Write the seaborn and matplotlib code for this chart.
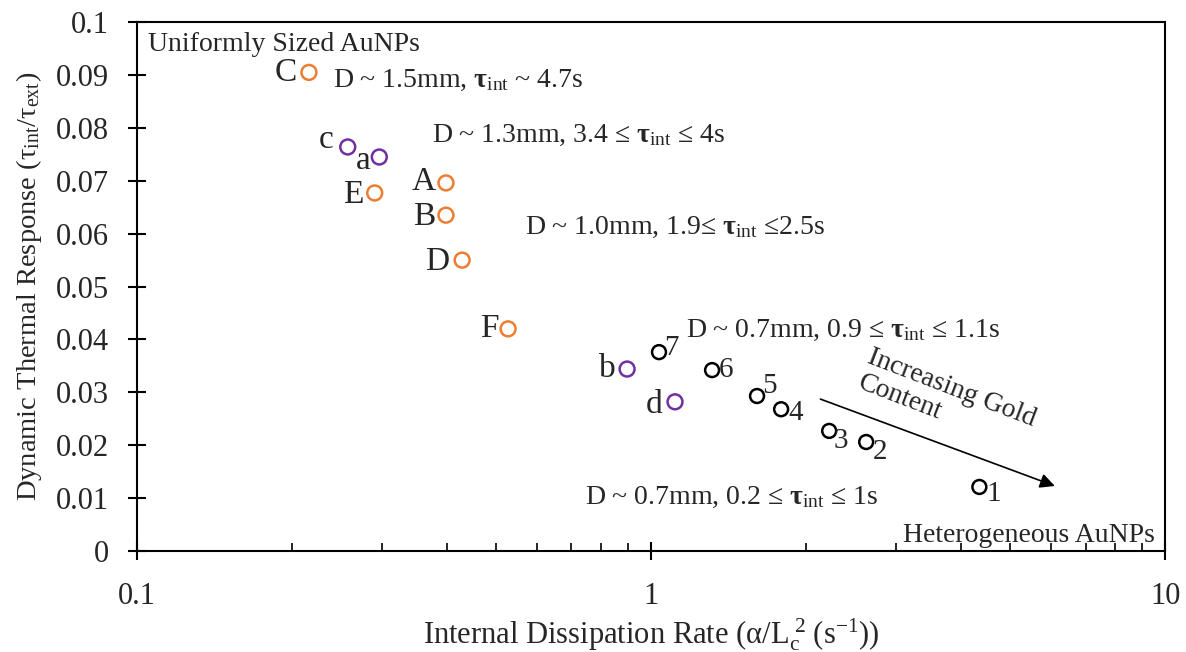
import matplotlib
matplotlib.use("Agg")
import matplotlib.pyplot as plt
import seaborn as sns

# values
orange_labels = ["C", "E", "A", "B", "D", "F"]
orange_x = [0.216, 0.290, 0.399, 0.399, 0.429, 0.527]
orange_y = [0.0905, 0.0677, 0.0696, 0.0635, 0.0550, 0.0420]

purple_labels = ["c", "a", "b", "d"]
purple_x = [0.257, 0.296, 0.898, 1.113]
purple_y = [0.0764, 0.0745, 0.0344, 0.0282]

black_labels = ["1", "2", "3", "4", "5", "6", "7"]
black_x = [4.35, 2.62, 2.22, 1.79, 1.607, 1.314, 1.036]
black_y = [0.0121, 0.0206, 0.0227, 0.0268, 0.0293, 0.0342, 0.0376]

# label offsets in points (dx, dy)
orange_off = [(-9, 0), (-8, -1), (-7, 1), (-8, -1), (-9, -1), (-7, 0)]
purple_off = [(-10, 5), (-6, -3), (-8, 0), (-9, -2)]
black_off = [(5, -5), (5, -7), (3, -7), (5, -3), (4, 7), (5, 0), (4, 3)]

arrow_start = (2.11, 0.0289)
arrow_end = (6.17, 0.0121)

sns.set_theme(style="white")
plt.rcParams['font.family'] = ['Liberation Serif', 'DejaVu Serif']
plt.rcParams['mathtext.fontset'] = 'custom'
plt.rcParams['mathtext.rm'] = 'Liberation Serif'
plt.rcParams['mathtext.it'] = 'Liberation Serif:italic'
plt.rcParams['mathtext.bf'] = 'Liberation Serif:bold'

fig = plt.figure(figsize=(11.86, 6.52), dpi=100)
ax = fig.add_axes([0.1155, 0.155, 0.867, 0.811])

ORANGE = "#ED7D31"
PURPLE = "#7030A0"

groups = [
    (orange_x, orange_y, orange_labels, orange_off, ORANGE, 24, 115),
    (purple_x, purple_y, purple_labels, purple_off, PURPLE, 24, 115),
    (black_x, black_y, black_labels, black_off, "black", 21, 100),
]
for xs, ys, labs, offs, col, fs, size in groups:
    sns.scatterplot(x=xs, y=ys, ax=ax, marker="o", s=size, color=col,
                    facecolor="none", edgecolor=col, linewidth=1.8, zorder=3)
    for x, y, lab, (dx, dy) in zip(xs, ys, labs, offs):
        ha = "right" if dx < 0 else "left"
        ax.annotate(lab, (x, y), xytext=(dx, dy), textcoords="offset points",
                    ha=ha, va="center", fontsize=fs)

ax.set_xscale("log")
ax.set_xlim(0.1, 10)
ax.set_ylim(0, 0.1)
ax.set_yticks([0, 0.01, 0.02, 0.03, 0.04, 0.05, 0.06, 0.07, 0.08, 0.09, 0.1])
ax.set_yticklabels(["0", "0.01", "0.02", "0.03", "0.04", "0.05", "0.06",
                    "0.07", "0.08", "0.09", "0.1"])
ax.set_xticks([0.1, 1, 10])
ax.set_xticklabels(["0.1", "1", "10"])

for sp in ax.spines.values():
    sp.set_color("black")
    sp.set_linewidth(1.5)

ax.tick_params(axis="y", which="major", direction="inout", length=13,
               width=1.5, labelsize=22, pad=14, color="black", left=True)
ax.tick_params(axis="x", which="major", direction="inout", length=13,
               width=1.5, labelsize=22, pad=16, color="black", bottom=True)
ax.tick_params(axis="x", which="minor", direction="in", length=6,
               width=1.2, color="black", bottom=True)

ax.set_xlabel(r"Internal Dissipation Rate ($\mathregular{α/L_c^{\ 2}\ (s^{-1})}$)",
              fontsize=22, labelpad=4)
ax.set_ylabel(r"Dynamic Thermal Response ($\mathregular{τ_{int}/τ_{ext}}$)",
              fontsize=20.5, labelpad=8)

ax.text(0.105, 0.0958, "Uniformly Sized AuNPs", ha="left", va="center",
        fontsize=20)
ax.text(9.56, 0.0030, "Heterogeneous AuNPs", ha="right", va="center",
        fontsize=20)

ax.text(0.2406, 0.0890, r"D ~ 1.5mm, $\mathbf{τ}_{\mathrm{int}}$ ~ 4.7s",
        fontsize=20, va="center")
ax.text(0.375, 0.0786, r"D ~ 1.3mm, 3.4 ≤ $\mathbf{τ}_{\mathrm{int}}$ ≤ 4s",
        fontsize=20, va="center")
ax.text(0.569, 0.0612, r"D ~ 1.0mm, 1.9≤ $\mathbf{τ}_{\mathrm{int}}$ ≤2.5s",
        fontsize=20, va="center")
ax.text(1.17, 0.0418, r"D ~ 0.7mm, 0.9 ≤ $\mathbf{τ}_{\mathrm{int}}$ ≤ 1.1s",
        fontsize=20, va="center")
ax.text(0.745, 0.0102, r"D ~ 0.7mm, 0.2 ≤ $\mathbf{τ}_{\mathrm{int}}$ ≤ 1s",
        fontsize=20, va="center")

ax.annotate("", xy=arrow_end, xytext=arrow_start,
            arrowprops=dict(arrowstyle="-|>", color="black", lw=1.2,
                            mutation_scale=22))
ax.text(2.70, 0.0390, "Increasing Gold\nContent", rotation=-21,
        rotation_mode="anchor", ha="left", va="top",
        multialignment="left", fontsize=20, linespacing=1.1)

fig.savefig("out.png", dpi=100)
